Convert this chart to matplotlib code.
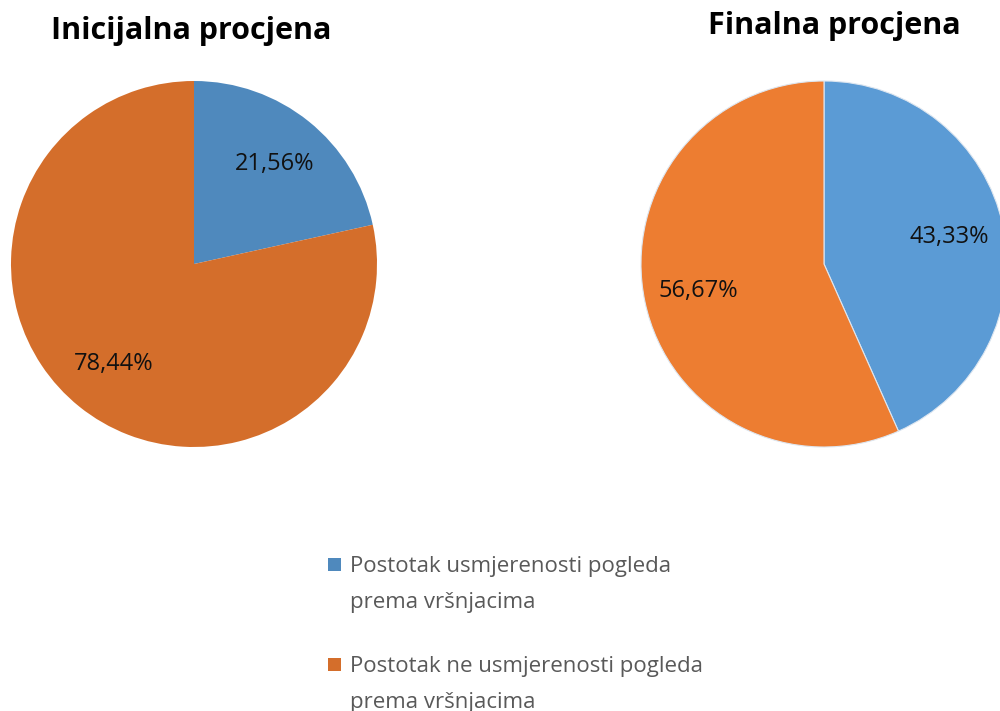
import matplotlib
matplotlib.use("Agg")
import matplotlib.pyplot as plt
from matplotlib.patches import Rectangle

plt.rcParams['font.family'] = ['Open Sans', 'DejaVu Sans']

titles = ["Inicijalna procjena", "Finalna procjena"]
categories = ["Postotak usmjerenosti pogleda\nprema vršnjacima",
              "Postotak ne usmjerenosti pogleda\nprema vršnjacima"]
initial_values = [21.56, 78.44]
final_values = [43.33, 56.67]
initial_colors = ["#4F89BD", "#D46E2B"]
final_colors = ["#5B9BD5", "#ED7D31"]

W, H = 1000, 711
fig = plt.figure(figsize=(W / 100, H / 100), dpi=100)

def fmt(p):
    return f"{p:.2f}%".replace(".", ",")

def add_pie(cx, cy, r, values, colors, edge, title, tx, ty):
    ax = fig.add_axes([(cx - r) / W, (H - cy - r) / H, 2 * r / W, 2 * r / H])
    wedges, texts, autotexts = ax.pie(values, colors=colors, startangle=90, counterclock=False,
                                      autopct=fmt, pctdistance=0.70,
                                      wedgeprops=dict(edgecolor=edge, linewidth=0.8),
                                      textprops=dict(fontsize=17, color="#111111"))
    ax.set_xlim(-1, 1)
    ax.set_ylim(-1, 1)
    ax.set_aspect("auto")
    ax.axis("off")
    fig.text(tx / W, 1 - ty / H, title, ha="center", va="baseline", fontsize=22,
             fontweight="bold", color="#000000")
    return wedges

add_pie(194, 264, 183, initial_values, initial_colors, "none", titles[0], 191, 39)
add_pie(824, 264, 183, final_values, final_colors, "#DDE6F0", titles[1], 834, 34)

# legend
leg_y = [572, 672]
for y, lab, col in zip(leg_y, categories, initial_colors):
    fig.patches.append(Rectangle((328 / W, 1 - (y - 1) / H), 13 / W, 13 / H,
                                 transform=fig.transFigure, facecolor=col, edgecolor="none"))
    for i, line in enumerate(lab.split("\n")):
        fig.text(350 / W, 1 - (y + 36 * i) / H, line, ha="left", va="baseline",
                 fontsize=16, color="#595959")

fig.savefig("out.png", dpi=100, facecolor="white")
